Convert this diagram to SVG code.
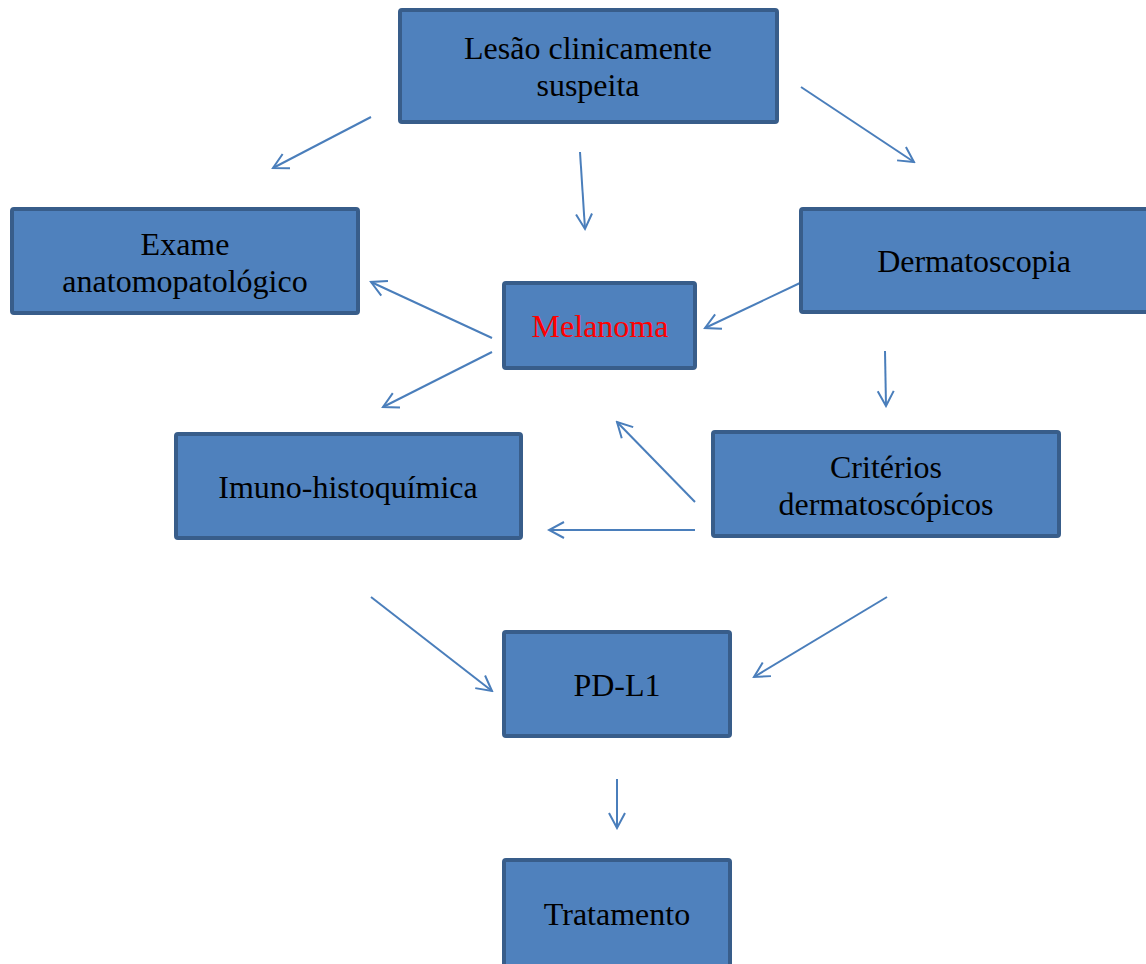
<svg xmlns="http://www.w3.org/2000/svg" width="1146" height="964" viewBox="0 0 1146 964">
<style>
.box{fill:#4F81BD;stroke:#385D8A;stroke-width:4}
.t{font-family:"Liberation Serif","Times New Roman",serif;font-size:32px;fill:#000;text-anchor:middle}
.c{stroke:#4A7EBB;stroke-width:2;fill:none}
</style>
<defs>
<marker id="ah" markerUnits="userSpaceOnUse" markerWidth="20" markerHeight="20" viewBox="0 0 20 20" refX="18" refY="10" orient="auto">
<path d="M3,2 L18,10 L3,18" fill="none" stroke="#4A7EBB" stroke-width="2"/>
</marker>
</defs>
<rect width="1146" height="964" fill="#fff"/>
<g id="connectors" class="c" marker-end="url(#ah)">
<line x1="371" y1="117" x2="273" y2="168"/>
<line x1="580" y1="152" x2="585" y2="229"/>
<line x1="801" y1="87" x2="914" y2="162"/>
<line x1="800" y1="283" x2="705" y2="328"/>
<line x1="492" y1="338" x2="371" y2="282"/>
<line x1="492" y1="352" x2="383" y2="407"/>
<line x1="885" y1="351" x2="886" y2="406"/>
<line x1="695" y1="502" x2="617" y2="422"/>
<line x1="695" y1="530" x2="549" y2="530"/>
<line x1="371" y1="597" x2="492" y2="691"/>
<line x1="887" y1="597" x2="754" y2="677"/>
<line x1="617" y1="779" x2="617" y2="828"/>
</g>
<g id="lesao"><rect class="box" x="400" y="10" width="377" height="112" rx="2"/><text class="t" x="588" y="59">Lesão clinicamente</text><text class="t" x="588" y="96">suspeita</text></g>
<g id="exame"><rect class="box" x="12" y="209" width="346" height="104" rx="2"/><text class="t" x="185" y="255">Exame</text><text class="t" x="185" y="292">anatomopatológico</text></g>
<g id="dermatoscopia"><rect class="box" x="801" y="209" width="348" height="103" rx="2"/><text class="t" x="974" y="272">Dermatoscopia</text></g>
<g id="melanoma"><rect class="box" x="504" y="283" width="191" height="85" rx="2"/><text class="t" x="600" y="337" style="fill:#FF0000">Melanoma</text></g>
<g id="imuno"><rect class="box" x="176" y="434" width="345" height="104" rx="2"/><text class="t" x="348" y="498">Imuno-histoquímica</text></g>
<g id="criterios"><rect class="box" x="713" y="432" width="346" height="104" rx="2"/><text class="t" x="886" y="478">Critérios</text><text class="t" x="886" y="515">dermatoscópicos</text></g>
<g id="pdl1"><rect class="box" x="504" y="632" width="226" height="104" rx="2"/><text class="t" x="617" y="696">PD-L1</text></g>
<g id="tratamento"><rect class="box" x="504" y="860" width="226" height="110" rx="2"/><text class="t" x="617" y="925">Tratamento</text></g>
</svg>
